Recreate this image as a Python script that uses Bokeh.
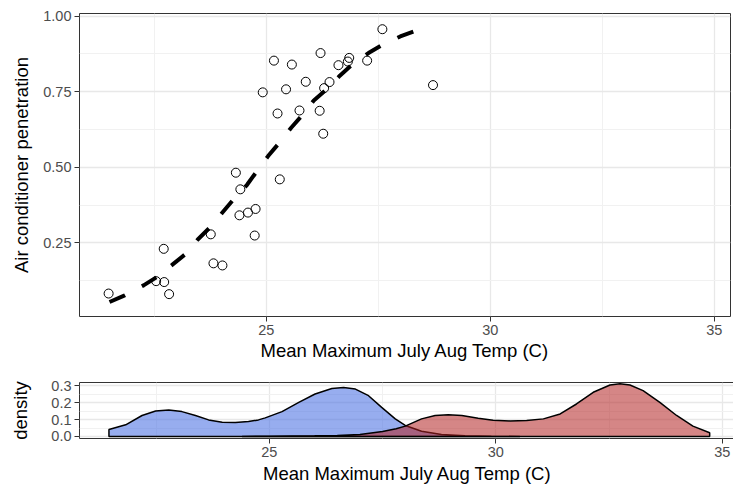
from bokeh.plotting import figure
from bokeh.layouts import column
from bokeh.models import FixedTicker, NumeralTickFormatter, Range1d
from bokeh.embed import file_html
from bokeh.resources import INLINE

# ---- scatter data (mean max July/Aug temp vs AC penetration) ----
temp = [21.48, 22.54, 22.71, 22.72, 22.83, 23.76, 23.82, 24.02, 24.32, 24.42,
        24.40, 24.59, 24.76, 24.74, 24.92, 25.17, 25.25, 25.30, 25.44, 25.57,
        25.74, 25.88, 26.21, 26.19, 26.27, 26.29, 26.41, 26.61, 26.85, 26.82,
        27.25, 27.59, 28.72]
ac_pen = [0.082, 0.123, 0.230, 0.120, 0.080, 0.278, 0.182, 0.175, 0.482, 0.427,
          0.341, 0.350, 0.362, 0.274, 0.748, 0.853, 0.678, 0.460, 0.758, 0.840,
          0.688, 0.783, 0.878, 0.687, 0.611, 0.762, 0.782, 0.838, 0.862, 0.850,
          0.853, 0.957, 0.772]

# ---- fitted curve ----
fit_x = [21.50, 21.84, 22.26, 22.56, 22.89, 23.19, 23.47, 23.75, 24.02, 24.27,
         24.57, 24.79, 25.04, 25.30, 25.55, 25.80, 26.06, 26.34, 26.64, 26.91,
         27.28, 27.60, 27.99, 28.35]
fit_y = [0.054, 0.076, 0.109, 0.137, 0.176, 0.212, 0.261, 0.302, 0.350, 0.394,
         0.442, 0.487, 0.537, 0.583, 0.630, 0.672, 0.721, 0.757, 0.803, 0.839,
         0.878, 0.906, 0.933, 0.953]

# ---- density curves ----
blue_x = [21.46, 21.83, 22.19, 22.49, 22.78, 23.07, 23.37, 23.66, 23.96, 24.25,
          24.54, 24.76, 24.91, 25.28, 25.65, 26.01, 26.38, 26.64, 26.90, 27.19,
          27.48, 27.78, 28.00, 28.36, 28.80, 29.32, 29.90, 30.53]
blue_y = [0.041, 0.069, 0.124, 0.151, 0.157, 0.147, 0.124, 0.098, 0.084, 0.082,
          0.088, 0.098, 0.110, 0.147, 0.202, 0.251, 0.284, 0.290, 0.280, 0.241,
          0.172, 0.104, 0.065, 0.031, 0.012, 0.004, 0.001, 0.0003]
red_x = [24.40, 25.00, 26.00, 26.50, 27.00, 27.50, 27.80, 28.00, 28.36, 28.66,
         28.95, 29.25, 29.61, 29.94, 30.31, 30.68, 31.05, 31.42, 31.78, 32.15,
         32.52, 32.74, 32.96, 33.25, 33.62, 33.99, 34.35, 34.72]
red_y = [0.0005, 0.002, 0.004, 0.006, 0.012, 0.030, 0.046, 0.061, 0.104, 0.124,
         0.129, 0.124, 0.108, 0.096, 0.092, 0.094, 0.104, 0.133, 0.192, 0.261,
         0.304, 0.312, 0.304, 0.271, 0.202, 0.124, 0.061, 0.022]

x_ticks = [25, 30, 35]
x_minor = [22.5, 27.5, 32.5]
top_y_ticks = [0.25, 0.50, 0.75, 1.00]
top_y_minor = [0.125, 0.375, 0.625, 0.875]
bot_y_ticks = [0.0, 0.1, 0.2, 0.3]
bot_y_minor = [0.05, 0.15, 0.25]

x_title = "Mean Maximum July Aug Temp (C)"
FONT = "Liberation Sans"


def style(p, yt, ym, yfmt, ylabel):
    p.xaxis.ticker = FixedTicker(ticks=x_ticks, minor_ticks=x_minor)
    p.yaxis.ticker = FixedTicker(ticks=yt, minor_ticks=ym)
    p.yaxis.formatter = NumeralTickFormatter(format=yfmt)
    p.xaxis.axis_label = x_title
    p.yaxis.axis_label = ylabel
    for ax in (p.xaxis, p.yaxis):
        ax.axis_line_color = None
        ax.minor_tick_line_color = None
        ax.major_tick_line_color = "#333333"
        ax.major_tick_line_width = 1
        ax.major_tick_out = 5
        ax.major_tick_in = 0
        ax.major_label_text_font = FONT
        ax.major_label_text_font_size = "14.5px"
        ax.major_label_text_color = "#4D4D4D"
        ax.major_label_standoff = 3
        ax.axis_label_text_font = FONT
        ax.axis_label_text_font_size = "18.5px"
        ax.axis_label_text_font_style = "normal"
        ax.axis_label_text_color = "#000000"
    p.xaxis.axis_label_standoff = 2
    p.yaxis.axis_label_standoff = 8
    for g in (p.xgrid, p.ygrid):
        g.grid_line_color = "#E8E8E8"
        g.grid_line_width = 1.3
        g.minor_grid_line_color = "#F1F1F1"
        g.minor_grid_line_width = 1
    p.outline_line_color = "#333333"
    p.outline_line_width = 1
    p.background_fill_color = "white"
    p.border_fill_color = "white"


p1 = figure(frame_width=651, frame_height=303,
            x_range=Range1d(20.83, 35.36), y_range=Range1d(0.006, 1.009),
            output_backend="svg", toolbar_location=None,
            min_border_left=79, min_border_right=3, min_border_top=13,
            min_border_bottom=54)
style(p1, top_y_ticks, top_y_minor, "0.00", "Air conditioner penetration")
p1.scatter(temp, ac_pen, size=9, marker="circle", fill_alpha=0,
           line_color="black", line_width=1)
p1.line(fit_x, fit_y, line_color="black", line_width=4, line_dash="17 19",
        line_cap="butt")

p2 = figure(frame_width=656, frame_height=56,
            x_range=Range1d(20.81, 35.29), y_range=Range1d(-0.012, 0.319),
            output_backend="svg", toolbar_location=None,
            min_border_left=71, min_border_right=5, min_border_top=12,
            min_border_bottom=47)
style(p2, bot_y_ticks, bot_y_minor, "0.0", "density")
p2.yaxis.axis_label_standoff = 17
p2.xaxis.axis_label_standoff = 3

bxs = [blue_x[0]] + blue_x + [blue_x[-1]]
bys = [0] + blue_y + [0]
rxs = [red_x[0]] + red_x + [red_x[-1]]
rys = [0] + red_y + [0]
p2.patch(bxs, bys, fill_color="royalblue", fill_alpha=0.55,
         line_color="black", line_width=1.5)
p2.patch(rxs, rys, fill_color="firebrick", fill_alpha=0.55,
         line_color="black", line_width=1.5)

layout = column(p1, p2, spacing=0)
open("out.html", "w").write(file_html(layout, INLINE))
